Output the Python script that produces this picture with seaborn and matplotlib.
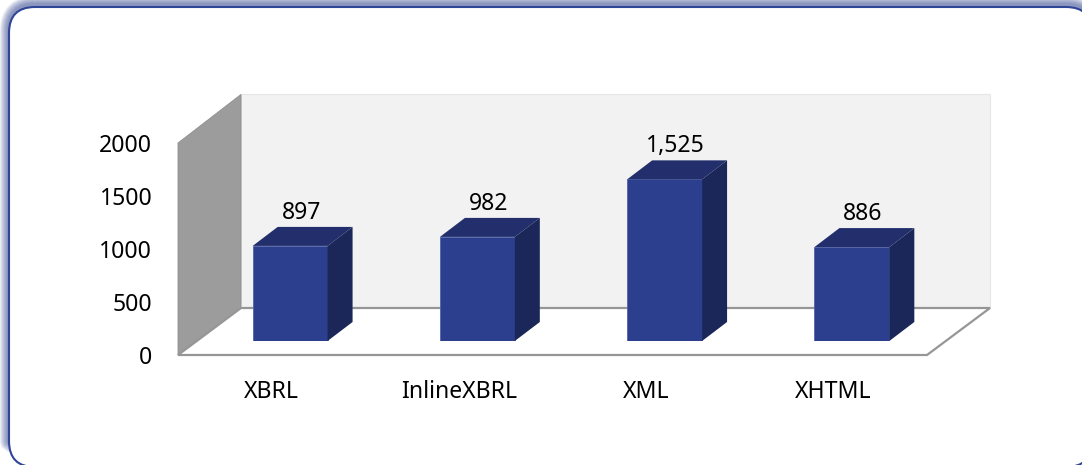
import matplotlib
matplotlib.use("Agg")
import matplotlib.pyplot as plt
from matplotlib.patches import FancyBboxPatch, Polygon
import seaborn as sns
import pandas as pd

categories = ["XBRL", "InlineXBRL", "XML", "XHTML"]
values = [897, 982, 1525, 886]
y_ticks = [0, 500, 1000, 1500, 2000]

sns.set_theme(style="white")
plt.rcParams["font.family"] = ["Noto Sans", "DejaVu Sans"]

W, H = 1082, 465
FS = 16.6
fig = plt.figure(figsize=(W / 100, H / 100), dpi=100, facecolor="white")


def rect(x0, x1, ytop, ybot):
    return [x0 / W, 1 - ybot / H, (x1 - x0) / W, (ybot - ytop) / H]


# Outer frame with soft glow on the top and left
bg = fig.add_axes([0, 0, 1, 1], zorder=0)
bg.set_xlim(0, W)
bg.set_ylim(H, 0)
bg.axis("off")
for px in [18, 16, 14, 12, 10, 8, 6, 4]:
    bg.add_patch(FancyBboxPatch((9, 5), 1083, 462, boxstyle="round,pad=0,rounding_size=26",
                                fc="none", ec="#2B3F8E", lw=px * .72, alpha=.09))
bg.add_patch(FancyBboxPatch((9, 7), 1083, 460, boxstyle="round,pad=0,rounding_size=26",
                            fc="white", ec="#2F4597", lw=1.5))

# Front plane axes: carries ticks, walls and floor
ax = fig.add_axes(rect(178, 927, 143, 355), zorder=1)
ax.set_xlim(-0.5, 3.5)
ax.set_ylim(0, 2000)
ax.patch.set_visible(False)
sns.despine(ax=ax, left=True, bottom=True)
ax.set_xticks(range(len(categories)), categories)
ax.set_yticks(y_ticks, [str(t) for t in y_ticks])
ax.tick_params(axis="both", length=0, labelsize=FS, labelcolor="black")
ax.tick_params(axis="x", pad=18)
ax.tick_params(axis="y", pad=18.5)

DX, DY = 63 / 187.25, 47 / 0.106
TOP = 2000 + DY + 15
L, R = -0.5, 3.5
ax.add_patch(Polygon([(L + DX, DY), (R + DX, DY), (R + DX, TOP), (L + DX, TOP)],
                     fc="#F2F2F2", ec="#E6E6E6", lw=.8, clip_on=False))
ax.add_patch(Polygon([(L, 0), (L + DX, DY), (L + DX, TOP), (L, 2000)],
                     fc="#9C9C9C", ec="#8F8F8F", lw=.6, clip_on=False))
ax.add_patch(Polygon([(L, 0), (L + DX, DY), (R + DX, DY), (R, 0)],
                     fc="white", ec="#969696", lw=1.6, clip_on=False))

# Bar plane axes: sits part way into the depth of the floor
bars = fig.add_axes(rect(196.5, 945.5, 129, 341), zorder=2)
df = pd.DataFrame({"cat": categories, "val": values})
sns.barplot(data=df, x="cat", y="val", color="#2B3F8E", saturation=1, width=0.4,
            edgecolor="#5263A8", linewidth=.6, ax=bars)
bars.set_xlim(-0.5, 3.5)
bars.set_ylim(0, 2000)
bars.axis("off")

bx, by = 25 / 187.25, 19 / 0.106
for p, v in zip(list(bars.patches), values):
    x0, x1 = p.get_x(), p.get_x() + p.get_width()
    bars.add_patch(Polygon([(x0, v), (x1, v), (x1 + bx, v + by), (x0 + bx, v + by)],
                           fc="#222F6C", ec="none", clip_on=False))
    bars.add_patch(Polygon([(x1, 0), (x1 + bx, by), (x1 + bx, v + by), (x1, v)],
                           fc="#1B2759", ec="none", clip_on=False))
    bars.annotate(f"{v:,}", xy=((x0 + x1) / 2, v), xytext=(11, 33), textcoords="offset pixels",
                  ha="center", va="center", fontsize=FS, color="black", annotation_clip=False)

fig.savefig("out.png", dpi=100)
